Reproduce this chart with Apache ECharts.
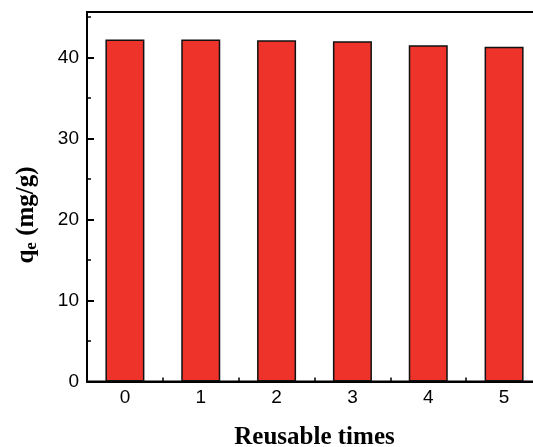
<!DOCTYPE html>
<html><head><meta charset="utf-8">
<script src="https://cdn.jsdelivr.net/npm/echarts@6/dist/echarts.min.js"></script>
<style>html,body{margin:0;padding:0;background:#fff}#c{width:533px;height:447px}</style>
</head><body><div id="c"></div>
<script>
const categories = ['0','1','2','3','4','5'];
const qeValues = [42.2, 42.2, 42.1, 42.0, 41.5, 41.3];
const yMin = 0, yMax = 45.6, yMajor = 10, yMinor = 5;

const chart = echarts.init(document.getElementById('c'), null, {renderer:'canvas'});
chart.setOption({
  animation:false,
  grid: {left:87, top:12, width:455, height:369.5, containLabel:false, outerBoundsMode:'none',
         show:true, borderColor:'#000', borderWidth:2, backgroundColor:'transparent'},
  xAxis: [
    {type:'category', data:categories, position:'bottom',
     axisLine:{lineStyle:{color:'#000', width:2}},
     axisTick:{show:true, inside:true, alignWithLabel:false, length:4, lineStyle:{color:'#000', width:1.5}},
     axisLabel:{color:'#000', fontFamily:'Liberation Sans', fontSize:19, margin:7},
     name:'Reusable times', nameLocation:'middle', nameGap:44,
     nameTextStyle:{fontFamily:'Liberation Serif', fontWeight:'bold', fontSize:25, color:'#000'}},
    {type:'category', data:categories, position:'bottom', gridIndex:0,
     axisLine:{show:false},
     axisTick:{show:true, inside:true, alignWithLabel:true, length:7, lineStyle:{color:'#000', width:2}},
     axisLabel:{show:false}}
  ],
  yAxis: [
    {type:'value', min:yMin, max:yMax, interval:yMajor,
     axisLine:{show:true, lineStyle:{color:'#000', width:2}},
     axisTick:{show:true, inside:true, length:7, lineStyle:{color:'#000', width:2}},
     axisLabel:{color:'#000', fontFamily:'Liberation Sans', fontSize:19, margin:8, showMaxLabel:false},
     splitLine:{show:false}},
    {type:'value', min:yMin, max:yMax, interval:yMinor, position:'left',
     axisLine:{show:false},
     axisTick:{show:true, inside:true, length:4, lineStyle:{color:'#000', width:1.5}},
     axisLabel:{show:false}, splitLine:{show:false}}
  ],
  series: [{
    type:'bar', data:qeValues, xAxisIndex:0, yAxisIndex:0, barWidth:39,
    itemStyle:{color:'#ee332b', borderColor:'#111', borderWidth:1.5}, z:1
  }],
  graphic: [{
    type:'text', x:27, y:215, rotation:Math.PI/2,
    style:{
      text:'{q|q}{e|e}{n| (mg/g)}',
      align:'center', verticalAlign:'middle',
      rich:{
        q:{fontFamily:'Liberation Serif', fontWeight:'bold', fontSize:25, fill:'#000'},
        e:{fontFamily:'Liberation Serif', fontWeight:'bold', fontSize:17, fill:'#000', verticalAlign:'bottom', padding:[10,0,0,0]},
        n:{fontFamily:'Liberation Serif', fontWeight:'bold', fontSize:25, fill:'#000'}
      }
    }
  }]
});
</script></body></html>
